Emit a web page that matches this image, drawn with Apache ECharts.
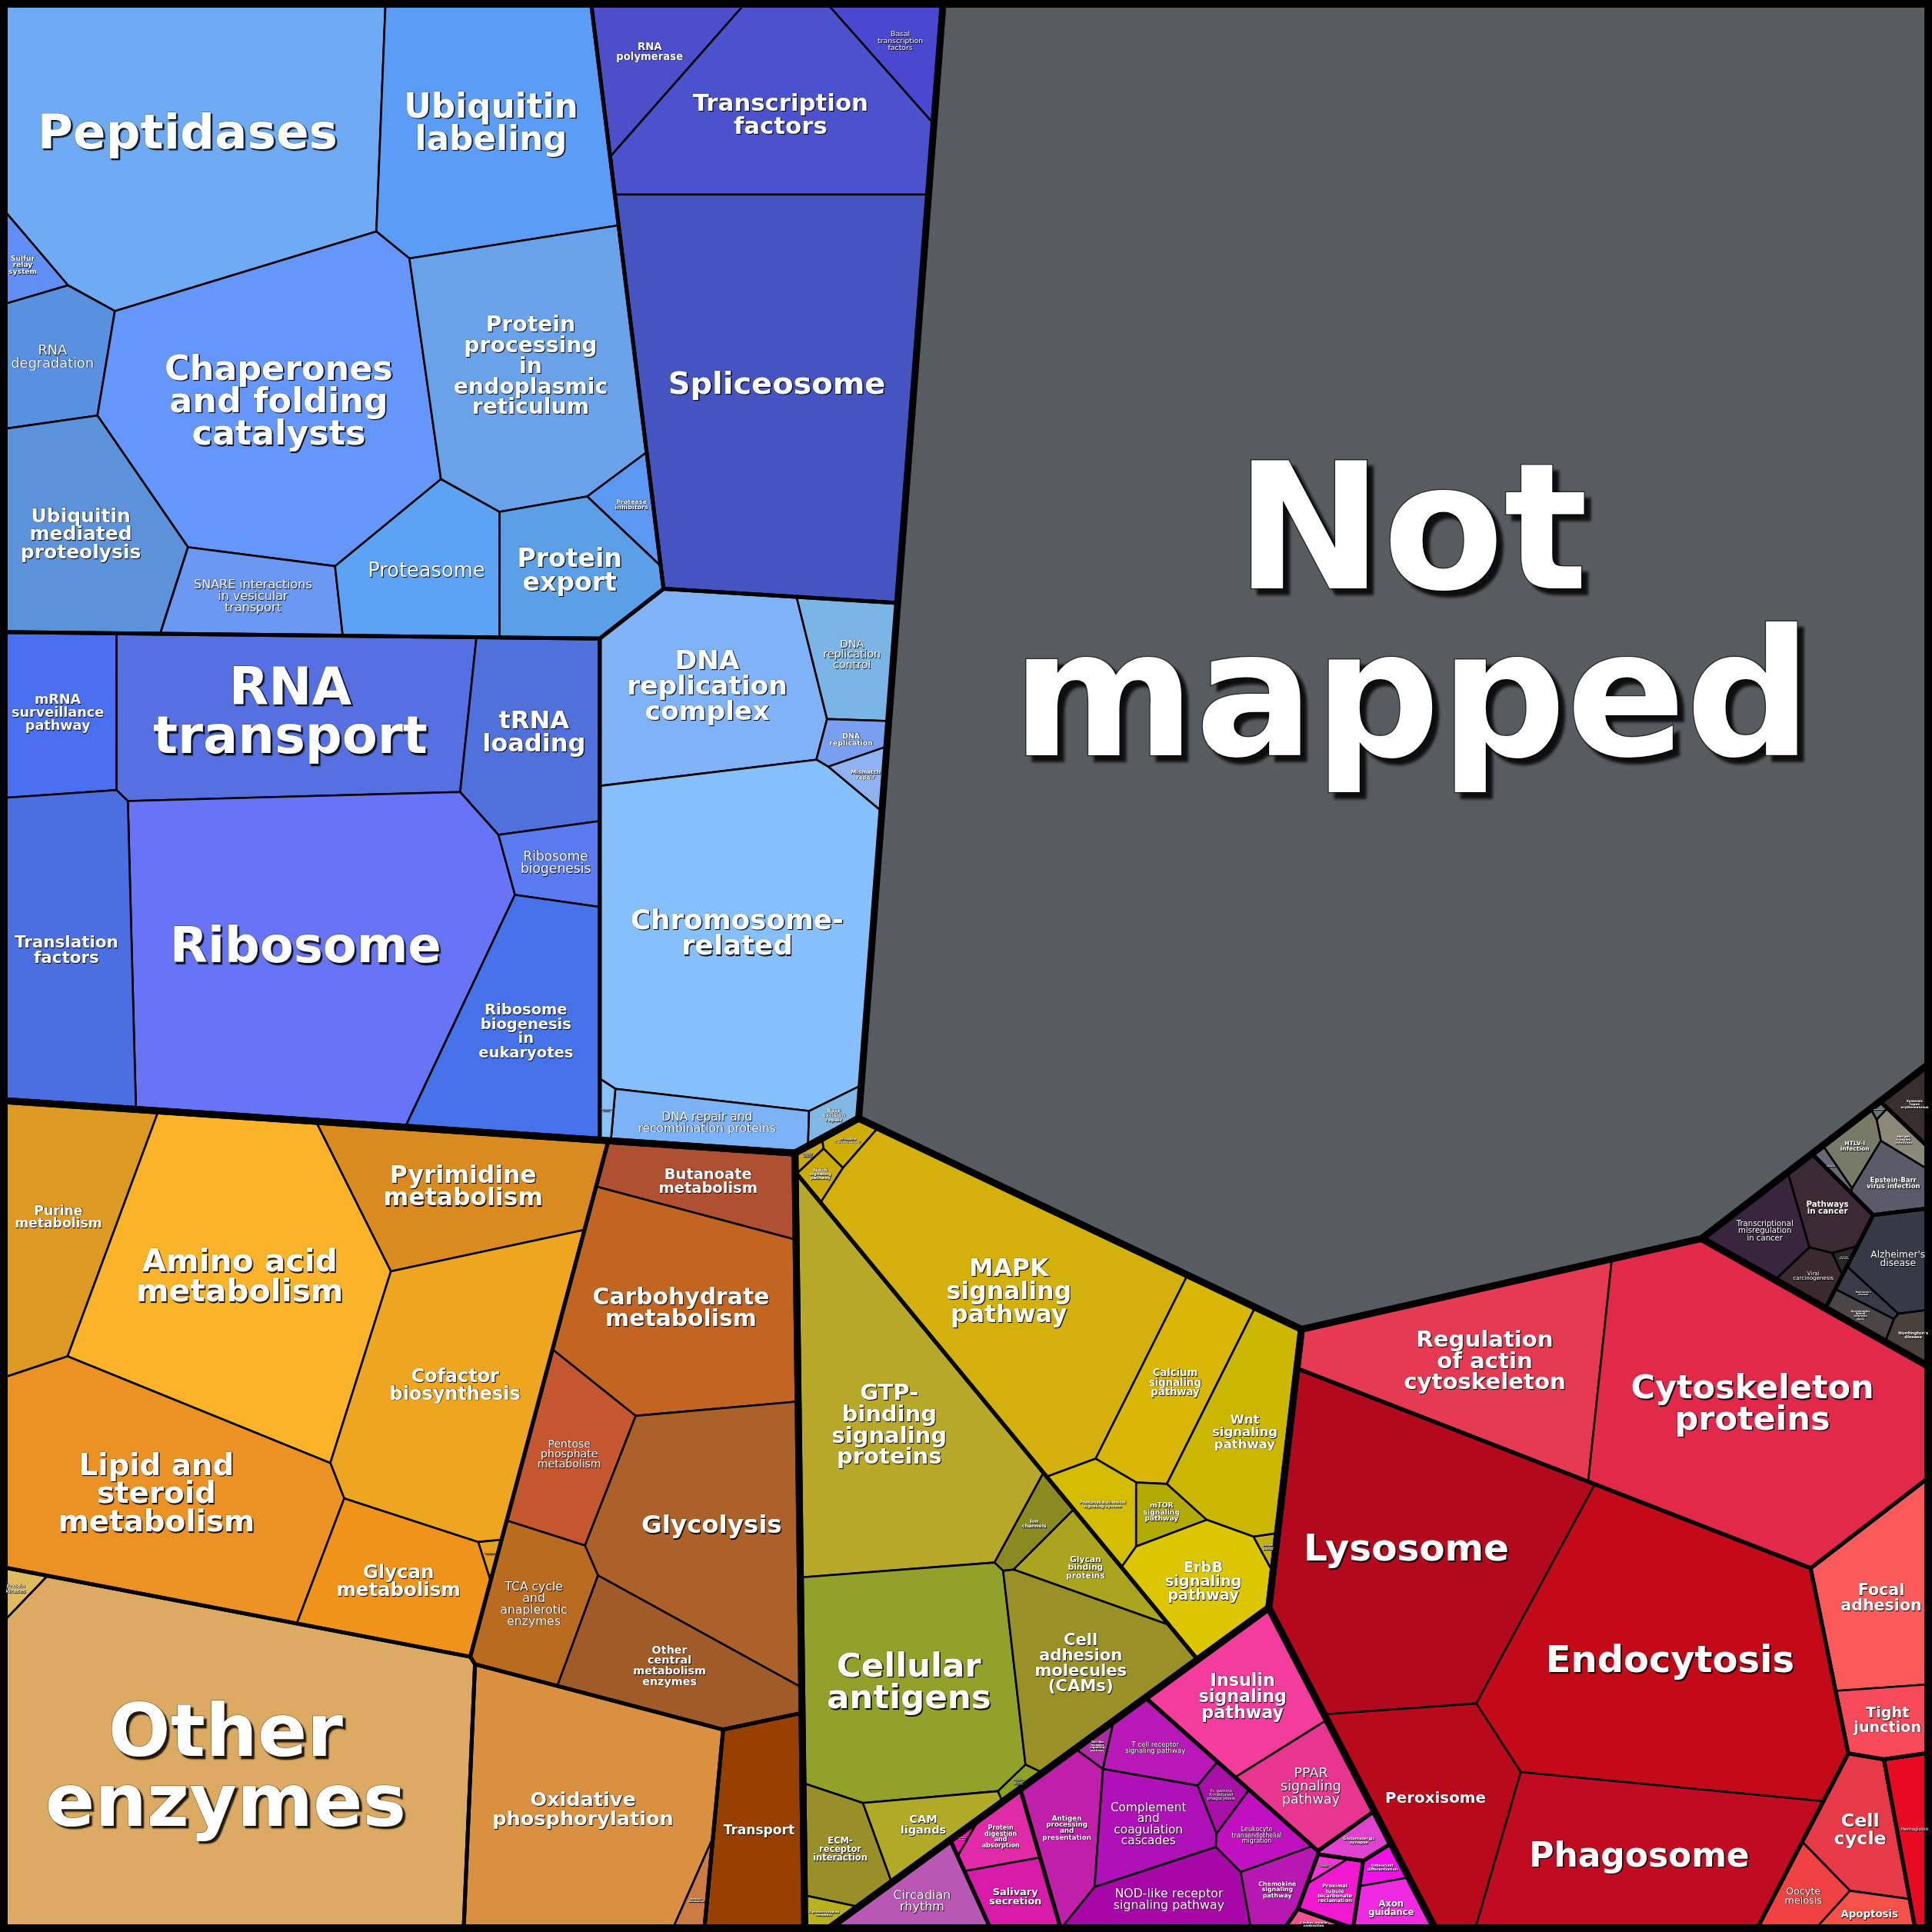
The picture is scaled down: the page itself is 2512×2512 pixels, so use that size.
<!DOCTYPE html>
<html><head><meta charset="utf-8">
<script src="https://cdn.jsdelivr.net/npm/echarts@6/dist/echarts.min.js"></script>
<style>html,body{margin:0;padding:0;background:#000}#c{width:2512px;height:2512px}</style>
</head><body><div id="c"></div>
<script>
// ---------------- DATA ("|" = line break in label) ----------------
const topGroups = ['Not mapped','Genetic Information Processing','Metabolism','Environmental Information Processing','Organismal Systems','Cellular Processes','Human Diseases'];

const notMapped = [['Not|mapped', 8246]];

const geneticInformation = [
 ['Folding, sorting and degradation','Peptidases',665],
 ['Folding, sorting and degradation','Ubiquitin|labeling',353],
 ['Folding, sorting and degradation','Sulfur|relay|system',22],
 ['Folding, sorting and degradation','RNA|degradation',87],
 ['Folding, sorting and degradation','Chaperones|and folding|catalysts',543],
 ['Folding, sorting and degradation','Protein|processing|in|endoplasmic|reticulum',343],
 ['Folding, sorting and degradation','Protease|inhibitors',24],
 ['Folding, sorting and degradation','Ubiquitin|mediated|proteolysis',214],
 ['Folding, sorting and degradation','SNARE interactions|in vesicular|transport',84],
 ['Folding, sorting and degradation','Proteasome',130],
 ['Folding, sorting and degradation','Protein|export',118],
 ['Transcription','RNA|polymerase',80],
 ['Transcription','Basal|transcription|factors',48],
 ['Transcription','Transcription|factors',292],
 ['Transcription','Spliceosome',712],
 ['Translation','mRNA|surveillance|pathway',122],
 ['Translation','RNA|transport',367],
 ['Translation','tRNA|loading',160],
 ['Translation','Ribosome|biogenesis',44],
 ['Translation','Ribosome',710],
 ['Translation','Translation|factors',265],
 ['Translation','Ribosome|biogenesis|in|eukaryotes',215],
 ['Replication and repair','DNA|replication|complex',241],
 ['Replication and repair','DNA|replication|control',63],
 ['Replication and repair','DNA|replication',16],
 ['Replication and repair','Mismatch|repair',12],
 ['Replication and repair','Chromosome-|related',570],
 ['Replication and repair','DNA repair and|recombination proteins',60],
 ['Replication and repair','Base|excision|repair',11],
 ['Replication and repair','Non-homologous|end-joining',5]
];

const metabolism = [
 ['Core metabolism','Purine|metabolism',190],
 ['Core metabolism','Amino acid|metabolism',490],
 ['Core metabolism','Pyrimidine|metabolism',190],
 ['Core metabolism','Cofactor|biosynthesis',325],
 ['Core metabolism','Lipid and|steroid|metabolism',415],
 ['Core metabolism','Glycan|metabolism',132],
 ['Core metabolism','Lipopolysaccharide|biosynthesis',3],
 ['Central carbon metabolism','Butanoate|metabolism',84],
 ['Central carbon metabolism','Carbohydrate|metabolism',280],
 ['Central carbon metabolism','Pentose|phosphate|metabolism',93],
 ['Central carbon metabolism','Glycolysis',280],
 ['Central carbon metabolism','TCA cycle|and|anaplerotic|enzymes',90],
 ['Central carbon metabolism','Other|central|metabolism|enzymes',128],
 ['Other enzymes','Other|enzymes',965],
 ['Other enzymes','Protein|kinases',9],
 ['Energy metabolism','Oxidative|phosphorylation',365],
 ['Energy metabolism','Methane|metabolism',10],
 ['Transport','Transport',122]
];

const environmentalInformation = [
 ['Signal transduction','Hedgehog|signaling|pathway',3],
 ['Signal transduction','NF-kappa B|signaling pathway',9],
 ['Signal transduction','Notch|signaling|pathway',8],
 ['Signal transduction','MAPK|signaling|pathway',400],
 ['Signal transduction','Calcium|signaling|pathway',100],
 ['Signal transduction','Wnt|signaling|pathway',118],
 ['Signal transduction','Phosphatidylinositol|signaling system',34],
 ['Signal transduction','mTOR|signaling|pathway',18],
 ['Signal transduction','ErbB|signaling|pathway',84],
 ['Signal transduction','Jak-STAT|signaling|pathway',3],
 ['Signaling molecules and interaction','GTP-|binding|signaling|proteins',375],
 ['Signaling molecules and interaction','Ion|channels',20],
 ['Signaling molecules and interaction','Glycan|binding|proteins',41],
 ['Signaling molecules and interaction','Cellular|antigens',310],
 ['Signaling molecules and interaction','Cell|adhesion|molecules|(CAMs)',142],
 ['Signaling molecules and interaction','ECM-|receptor|interaction',51],
 ['Signaling molecules and interaction','CAM|ligands',41],
 ['Signaling molecules and interaction','G protein-coupled|receptors',8],
 ['Signaling molecules and interaction','Neuroactive|ligand-|receptor|interaction',4]
];

const organismalSystems = [
 ['Environmental adaptation','Circadian|rhythm',50],
 ['Digestive system','Salivary|secretion',33],
 ['Digestive system','Protein|digestion|and|absorption',25],
 ['Digestive system','Pancreatic|secretion',2],
 ['Immune system','Antigen|processing|and|presentation',59],
 ['Immune system','Toll-like|receptor|signaling|pathway',5],
 ['Immune system','T cell receptor|signaling pathway',38],
 ['Immune system','Complement|and|coagulation|cascades',64],
 ['Immune system','Fc gamma|R-mediated|phagocytosis',12],
 ['Immune system','Leukocyte|transendothelial|migration',27],
 ['Immune system','NOD-like receptor|signaling pathway',70],
 ['Immune system','Chemokine|signaling|pathway',27],
 ['Endocrine system','Insulin|signaling|pathway',102],
 ['Endocrine system','PPAR|signaling|pathway',60],
 ['Nervous system','Glutamatergic|synapse',12],
 ['Excretory system','Proximal|tubule|bicarbonate|reclamation',18],
 ['Excretory system','Vasopressin-regulated|water|reabsorption',3],
 ['Development','Osteoclast|differentiation',8],
 ['Development','Axon|guidance',22],
 ['Circulatory system','Cardiac muscle|contraction',6]
];

const cellularProcesses = [
 ['Cell motility','Regulation|of actin|cytoskeleton',257],
 ['Cell motility','Cytoskeleton|proteins',512],
 ['Transport and catabolism','Lysosome',480],
 ['Transport and catabolism','Endocytosis',527],
 ['Transport and catabolism','Peroxisome',172],
 ['Transport and catabolism','Phagosome',280],
 ['Cellular community','Focal|adhesion',121],
 ['Cellular community','Tight|junction',40],
 ['Cell growth and death','Cell|cycle',63],
 ['Cell growth and death','Oocyte|meiosis',29],
 ['Cell growth and death','Apoptosis',20],
 ['Blood','Hemoglobin',37]
];

const humanDiseases = [
 ['Immune diseases','Systemic|lupus|erythematosus',15],
 ['Infectious diseases','Legionellosis',1],
 ['Infectious diseases','Herpes|simplex|infection',10],
 ['Infectious diseases','HTLV-I|infection',15],
 ['Infectious diseases','Measles',3],
 ['Infectious diseases','Epstein-Barr|virus infection',26],
 ['Cancers','Transcriptional|misregulation|in cancer',38],
 ['Cancers','Pathways|in cancer',32],
 ['Cancers','Viral|carcinogenesis',15],
 ['Cancers','Small cell|lung cancer',2],
 ['Neurodegenerative diseases',"Alzheimer's|disease",43],
 ['Neurodegenerative diseases',"Parkinson's|disease",7],
 ['Neurodegenerative diseases','Amyotrophic|lateral|sclerosis|(ALS)',10],
 ['Neurodegenerative diseases',"Huntington's|disease",12]
];

const groupData = {
 'Genetic Information Processing': geneticInformation,
 'Metabolism': metabolism,
 'Environmental Information Processing': environmentalInformation,
 'Organismal Systems': organismalSystems,
 'Cellular Processes': cellularProcesses,
 'Human Diseases': humanDiseases
};

// ---------------- STYLE / LAYOUT SEEDS (colour, seed x, seed y in 1568-scale, bold) ----------------
const LEAF_STYLE = {
 'Not|mapped':['#575c61',1143,510,1],
 'Peptidases':['#6fabf5',160,100,1],'Ubiquitin|labeling':['#5b9cf6',410,110,1],'Sulfur|relay|system':['#5f8ff5',25,215,1],
 'RNA|degradation':['#5791e0',50,300,0],'Chaperones|and folding|catalysts':['#6596fb',230,330,1],
 'Protein|processing|in|endoplasmic|reticulum':['#6aa2ea',440,300,1],'Protease|inhibitors':['#5b98f2',524,413,1],
 'Ubiquitin|mediated|proteolysis':['#5b92d9',70,440,1],'SNARE interactions|in vesicular|transport':['#6b98f3',210,485,0],
 'Proteasome':['#5ca3f6',345,470,0],'Protein|export':['#5b9fe7',470,470,1],
 'RNA|polymerase':['#4c4fc9',548,39,1],'Basal|transcription|factors':['#4a47d1',737,34,0],'Transcription|factors':['#4b52cd',640,120,1],
 'Spliceosome':['#4554c1',640,320,1],
 'mRNA|surveillance|pathway':['#4a6ff0',52,580,1],'RNA|transport':['#5670e1',250,580,1],'tRNA|loading':['#5070dc',440,600,1],
 'Ribosome|biogenesis':['#5a7af2',455,710,0],'Ribosome':['#6674f5',255,765,1],'Translation|factors':['#4b6fe0',65,770,1],
 'Ribosome|biogenesis|in|eukaryotes':['#4572e8',435,850,1],
 'DNA|replication|complex':['#80b2f8',575,565,1],'DNA|replication|control':['#7ab5e6',695,535,0],'DNA|replication':['#7a9ff0',693,596,1],
 'Mismatch|repair':['#8fb2f2',704,628,1],'Chromosome-|related':['#86c0fc',598,755,1],'DNA repair and|recombination proteins':['#7cb2f6',580,912,0],
 'Base|excision|repair':['#80b8e6',677,915,1],'Non-homologous|end-joining':['#88c2fb',500,905,0],
 'Purine|metabolism':['#dc9a22',50,990,1],'Amino acid|metabolism':['#fbb42a',185,1040,1],'Pyrimidine|metabolism':['#d98b20',345,960,1],
 'Cofactor|biosynthesis':['#eea51f',375,1100,1],'Lipid and|steroid|metabolism':['#ec9124',120,1200,1],'Glycan|metabolism':['#f09419',318,1275,1],
 'Lipopolysaccharide|biosynthesis':['#e8a020',390,1252,0],
 'Butanoate|metabolism':['#b05032',588,965,1],'Carbohydrate|metabolism':['#c16520',560,1070,1],'Pentose|phosphate|metabolism':['#c45630',460,1195,0],
 'Glycolysis':['#ab6128',575,1240,1],'TCA cycle|and|anaplerotic|enzymes':['#b96b20',425,1305,0],'Other|central|metabolism|enzymes':['#a15b28',520,1340,1],
 'Other|enzymes':['#dcaa62',170,1420,1],'Protein|kinases':['#e0bb62',20,1276,0],
 'Oxidative|phosphorylation':['#d99141',465,1475,1],'Methane|metabolism':['#cc7c42',582,1528,1],'Transport':['#984000',615,1470,1],
 'Hedgehog|signaling|pathway':['#c9aa08',663,940,1],'NF-kappa B|signaling pathway':['#cfae04',697,935,1],'Notch|signaling|pathway':['#cbab06',677,955,1],
 'MAPK|signaling|pathway':['#d4b00c',840,1060,1],'Calcium|signaling|pathway':['#d8b804',960,1120,1],'Wnt|signaling|pathway':['#cbb600',1020,1150,1],
 'Phosphatidylinositol|signaling system':['#d4bd00',900,1222,1],'mTOR|signaling|pathway':['#b0aa02',955,1222,1],'ErbB|signaling|pathway':['#dcc600',975,1275,1],
 'Jak-STAT|signaling|pathway':['#c4b010',1034,1243,1],
 'GTP-|binding|signaling|proteins':['#b8a82a',715,1175,1],'Ion|channels':['#8a8a20',847,1247,1],'Glycan|binding|proteins':['#aaa41e',885,1285,1],
 'Cellular|antigens':['#91a12a',730,1370,1],'Cell|adhesion|molecules|(CAMs)':['#999128',860,1355,1],'ECM-|receptor|interaction':['#998f28',685,1505,1],
 'CAM|ligands':['#b0aa26',740,1485,1],'G protein-coupled|receptors':['#b8b01e',675,1552,1],'Neuroactive|ligand-|receptor|interaction':['#90a020',812,1455,1],
 'Circadian|rhythm':['#b957b5',767,1535,0],'Salivary|secretion':['#d81aa8',832,1540,1],'Protein|digestion|and|absorption':['#e02aa8',823,1490,1],
 'Pancreatic|secretion':['#f012b4',797,1475,1],'Antigen|processing|and|presentation':['#c01fa9',872,1460,1],'Toll-like|receptor|signaling|pathway':['#b02aa8',916,1400,1],
 'T cell receptor|signaling pathway':['#b818b8',952,1408,0],'Complement|and|coagulation|cascades':['#b010b8',942,1465,0],'Fc gamma|R-mediated|phagocytosis':['#a80fa6',1003,1437,0],
 'Leukocyte|transendothelial|migration':['#c010c0',1030,1470,0],'NOD-like receptor|signaling pathway':['#a807a8',965,1535,0],'Chemokine|signaling|pathway':['#b818b2',1048,1520,1],
 'Insulin|signaling|pathway':['#f43c9c',1020,1345,1],'PPAR|signaling|pathway':['#e8358f',1070,1425,0],'Glutamatergic|synapse':['#e042d0',1117,1462,1],
 'Proximal|tubule|bicarbonate|reclamation':['#f019d0',1092,1525,1],'Vasopressin-regulated|water|reabsorption':['#f832d6',1082,1498,1],
 'Osteoclast|differentiation':['#f010e8',1135,1482,1],'Axon|guidance':['#f02ae0',1138,1540,1],'Cardiac muscle|contraction':['#f05090',1078,1552,1],
 'Regulation|of actin|cytoskeleton':['#e63a52',1195,1095,1],'Cytoskeleton|proteins':['#e2294a',1430,1120,1],'Lysosome':['#b4091c',1160,1240,1],
 'Endocytosis':['#c40a18',1345,1340,1],'Peroxisome':['#b80a1a',1175,1450,1],'Phagosome':['#c00b20',1330,1495,1],
 'Focal|adhesion':['#fc5a5a',1520,1295,1],'Tight|junction':['#f84a5a',1527,1395,1],'Cell|cycle':['#e63a48',1505,1478,1],
 'Oocyte|meiosis':['#f04242',1462,1520,0],'Apoptosis':['#f45248',1495,1550,1],'Hemoglobin':['#e80a22',1549,1490,0],
 'Systemic|lupus|erythematosus':['#3a2e2e',1540,878,1],'Legionellosis':['#607a72',1533,893,1],'Herpes|simplex|infection':['#8a8878',1545,912,1],
 'HTLV-I|infection':['#787a68',1492,925,1],'Measles':['#6a6878',1463,930,1],'Epstein-Barr|virus infection':['#5a5a68',1525,945,1],
 'Transcriptional|misregulation|in cancer':['#38263e',1420,985,0],'Pathways|in cancer':['#3b2a31',1472,970,1],'Viral|carcinogenesis':['#3a2a30',1458,1025,0],
 'Small cell|lung cancer':['#282828',1484,1013,1],"Alzheimer's|disease":['#363a46',1532,995,0],"Parkinson's|disease":['#3a3a48',1490,1020,1],
 'Amyotrophic|lateral|sclerosis|(ALS)':['#4a4648',1487,1040,1],"Huntington's|disease":['#48403a',1540,1057,1]
};

const GROUP_HINT = {
 'Not mapped':[1143,510],'Genetic Information Processing':[376,452],'Metabolism':[324,1236],
 'Environmental Information Processing':[800,1230],'Organismal Systems':[975,1470],'Cellular Processes':[1320,1291],'Human Diseases':[1499,973]
};
const SUB_HINT = {
 'Folding, sorting and degradation':[255,262],'Transcription':[635,215],'Translation':[250,710],'Replication and repair':[605,710],
 'Core metabolism':[200,1085],'Central carbon metabolism':[555,1180],'Other enzymes':[130,1450],'Energy metabolism':[480,1465],'Transport':[618,1478],
 'Signal transduction':[905,1125],'Signaling molecules and interaction':[705,1290],
 'Environmental adaptation':[767,1535],'Digestive system':[822,1510],'Immune system':[960,1470],'Endocrine system':[1040,1380],
 'Nervous system':[1117,1460],'Excretory system':[1090,1518],'Development':[1137,1525],'Circulatory system':[1078,1552],
 'Cell motility':[1360,1105],'Transport and catabolism':[1255,1375],'Cellular community':[1525,1320],'Cell growth and death':[1495,1500],'Blood':[1549,1490],
 'Cancers':[1440,990],'Infectious diseases':[1505,925],'Neurodegenerative diseases':[1518,1030],'Immune diseases':[1540,878]
};

// ---------------- Power-diagram treemap: cell areas solved from the values ----------------
const SIZE = 2512, S = SIZE/1568;
function polyArea(p){let a=0;for(let i=0,n=p.length;i<n;i++){const q=p[i],r=p[(i+1)%n];a+=q[0]*r[1]-r[0]*q[1];}return a/2;}
function centroid(p){let a=0,cx=0,cy=0;for(let i=0,n=p.length;i<n;i++){const q=p[i],r=p[(i+1)%n];const f=q[0]*r[1]-r[0]*q[1];a+=f;cx+=(q[0]+r[0])*f;cy+=(q[1]+r[1])*f;}
 if(Math.abs(a)<1e-9)return null;a/=2;return [cx/(6*a),cy/(6*a)];}
function inside(poly,p){let pos=false,neg=false;for(let i=0,n=poly.length;i<n;i++){const a=poly[i],b=poly[(i+1)%n];
 const cr=(b[0]-a[0])*(p[1]-a[1])-(b[1]-a[1])*(p[0]-a[0]);if(cr>1e-9)pos=true;else if(cr<-1e-9)neg=true;if(pos&&neg)return false;}return true;}
function projectInside(poly,h,c){if(inside(poly,h))return h.slice();let lo=0,hi=1;
 for(let k=0;k<40;k++){const m=(lo+hi)/2;const p=[c[0]+(h[0]-c[0])*m,c[1]+(h[1]-c[1])*m];if(inside(poly,p))lo=m;else hi=m;}
 const m=lo*0.92;return [c[0]+(h[0]-c[0])*m,c[1]+(h[1]-c[1])*m];}
function clipT(poly,ax,ay,b,tag){const out=[],n=poly.length;
 for(let i=0;i<n;i++){const P=poly[i],Q=poly[(i+1)%n];const dp=ax*P.x+ay*P.y-b,dq=ax*Q.x+ay*Q.y-b;
  if(dp<=0){out.push(P);if(dq>0){const t=dp/(dp-dq);out.push({x:P.x+t*(Q.x-P.x),y:P.y+t*(Q.y-P.y),t:tag});}}
  else if(dq<0){const t=dp/(dp-dq);out.push({x:P.x+t*(Q.x-P.x),y:P.y+t*(Q.y-P.y),t:P.t});}}
 return out;}
function cellsT(sites,poly){return sites.map((s,i)=>{let cell=poly.map(p=>({x:p[0],y:p[1],t:-1}));
 for(let j=0;j<sites.length&&cell.length>=3;j++){if(j===i)continue;const t=sites[j];const ax=2*(t.x-s.x),ay=2*(t.y-s.y);
  if(ax===0&&ay===0)continue;cell=clipT(cell,ax,ay,t.x*t.x+t.y*t.y-s.x*s.x-s.y*s.y+s.w-t.w,j);}
 return cell.length>=3?cell:[];});}

function layoutNode(node,poly){
 node.poly=poly;const kids=node.children;if(!kids)return;
 if(kids.length===1){layoutNode(kids[0],poly);return;}
 const A=Math.abs(polyArea(poly)),tot=kids.reduce((s,k)=>s+k.value,0),c=centroid(poly);
 const target=kids.map(k=>A*k.value/tot);
 const sites=kids.map((k,i)=>{const p=projectInside(poly,[k.hint[0]*S,k.hint[1]*S],c);return {x:p[0]+i*0.013,y:p[1]+i*0.007,w:0};});
 let cells;
 for(let it=0;it<6000;it++){
  cells=cellsT(sites,poly);
  let err=0;const dw=new Array(sites.length).fill(0);
  cells.forEach((cell,i)=>{const s=sites[i];
   if(cell.length<3){let m=-Infinity;sites.forEach((o,j)=>{if(j!==i)m=Math.max(m,o.w-((o.x-s.x)**2+(o.y-s.y)**2));});
    dw[i]=m+target[i]/Math.PI*0.3-s.w;err=1;return;}
   let a=0,H=0;for(let k=0,n=cell.length;k<n;k++){const P=cell[k],Q=cell[(k+1)%n];a+=P.x*Q.y-Q.x*P.y;
    if(P.t>=0){const o=sites[P.t];H+=Math.hypot(Q.x-P.x,Q.y-P.y)/(2*Math.hypot(o.x-s.x,o.y-s.y));}}
   a=Math.abs(a)/2;err=Math.max(err,Math.abs(a-target[i])/target[i]);
   if(H>1e-9)dw[i]=0.6*(target[i]-a)/H;});
  sites.forEach((s,i)=>s.w+=dw[i]);
  if(err<0.002)break;
 }
 cells=cellsT(sites,poly);
 kids.forEach((k,i)=>layoutNode(k,cells[i].map(p=>[p.x,p.y])));
}

function buildTree(){
 const root={children:[]};
 for(const g of topGroups){
  if(g==='Not mapped'){const [label,value]=notMapped[0];const st=LEAF_STYLE[label];
   root.children.push({label,value,leaf:true,hint:GROUP_HINT[g],color:st[0],bold:st[3]});continue;}
  const gnode={name:g,children:[],hint:GROUP_HINT[g],level:1};const subs={};
  for(const [sg,label,value] of groupData[g]){
   if(!subs[sg]){subs[sg]={name:sg,children:[],hint:SUB_HINT[sg],level:2};gnode.children.push(subs[sg]);}
   const st=LEAF_STYLE[label];subs[sg].children.push({label,value,leaf:true,hint:[st[1],st[2]],color:st[0],bold:st[3]});}
  root.children.push(gnode);}
 (function sum(n){if(n.children)n.value=n.children.reduce((s,c)=>s+sum(c),0);return n.value;})(root);
 return root;
}

const root=buildTree();
layoutNode(root,[[0,0],[SIZE,0],[SIZE,SIZE],[0,SIZE]]);
const leaves=[],level1=[],level2=[];
(function walk(n){if(n.leaf){if(n.poly&&n.poly.length>=3)leaves.push(n);return;}
 if(n.level===1&&n.poly&&n.poly.length>=3)level1.push(n);if(n.level===2&&n.poly&&n.poly.length>=3)level2.push(n);n.children.forEach(walk);})(root);

const mctx=document.createElement('canvas').getContext('2d');
const LH=0.95;
leaves.forEach(l=>{
 const c=centroid(l.poly)||l.poly[0];const lines=l.label.split('|');
 mctx.font=(l.bold?'bold ':'')+'100px "DejaVu Sans"';
 const w100=Math.max(...lines.map(t=>mctx.measureText(t).width)),h100=lines.length*100*LH;
 let lo=0,hi=4000;
 for(let k=0;k<40;k++){const m=(lo+hi)/2,hw=w100*m/200,hh=h100*m/200;
  const ok=[[c[0]-hw,c[1]-hh],[c[0]+hw,c[1]-hh],[c[0]+hw,c[1]+hh],[c[0]-hw,c[1]+hh]].every(p=>inside(l.poly,p));
  if(ok)lo=m;else hi=m;}
 l.lx=c[0];l.ly=c[1];l.fs=lo*0.8;l.text=lines.join('\n');
});

// ---------------- ECharts rendering ----------------
function polySeries(list,styleFn,z){
 return {type:'custom',coordinateSystem:'cartesian2d',silent:true,clip:false,z,
  data:list.map((it,i)=>{const c=centroid(it.poly)||[0,0];return [c[0],c[1],i];}),
  renderItem:(params,api)=>{const it=list[api.value(2)];
   return {type:'polygon',shape:{points:it.poly.map(p=>api.coord(p))},style:styleFn(it)};}};
}
const frame=[{poly:[[0,0],[SIZE,0],[SIZE,SIZE],[0,SIZE]]}];
const chart=echarts.init(document.getElementById('c'),null,{renderer:'canvas',width:2512,height:2512});
chart.setOption({
 animation:false,backgroundColor:'#000',
 grid:{left:0,right:0,top:0,bottom:0},
 xAxis:{type:'value',min:0,max:SIZE,show:false},
 yAxis:{type:'value',min:0,max:SIZE,inverse:true,show:false},
 series:[
  polySeries(leaves,it=>({fill:it.color,stroke:'#000',lineWidth:2.6,lineJoin:'round'}),1),
  polySeries(level2,()=>({fill:'none',stroke:'#000',lineWidth:5,lineJoin:'round'}),2),
  polySeries(level1,()=>({fill:'none',stroke:'#000',lineWidth:9,lineJoin:'round'}),3),
  polySeries(frame,()=>({fill:'none',stroke:'#000',lineWidth:20}),4),
  {type:'custom',coordinateSystem:'cartesian2d',silent:true,clip:false,z:5,
   data:leaves.map((l,i)=>[l.lx,l.ly,i]),
   renderItem:(params,api)=>{const l=leaves[api.value(2)];const p=api.coord([l.lx,l.ly]);const s=l.fs;
    return {type:'text',x:p[0],y:p[1],style:{text:l.text,fontSize:s,fontWeight:l.bold?'bold':'normal',fontFamily:'"DejaVu Sans", sans-serif',
     fill:'#ffffff',align:'center',verticalAlign:'middle',lineHeight:s*LH,
     stroke:'rgba(0,0,0,0.55)',lineWidth:Math.max(0.4,s*0.012),
     textShadowColor:'rgba(0,0,0,0.85)',textShadowBlur:Math.max(0.5,s*0.015),
     textShadowOffsetX:Math.max(0.7,s*0.035),textShadowOffsetY:Math.max(0.7,s*0.035)}};}}
 ]
});
</script></body></html>
